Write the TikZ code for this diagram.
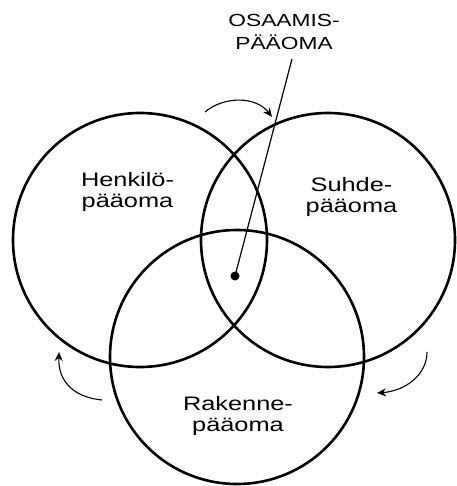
\documentclass[tikz,border=0pt]{standalone}
\usepackage{fontspec}
\setmainfont[FakeStretch=1.3]{Liberation Sans}
\usetikzlibrary{arrows.meta}
\begin{document}
\begin{tikzpicture}[x=1pt,y=-1pt,
	ring/.style={line width=2.6pt},
	turn/.style={line width=1.1pt,-{Stealth[length=9pt,width=8pt]}},
	lbl/.style={align=center,inner sep=0pt,font=\fontsize{19.5}{21}\selectfont}]
			\useasboundingbox (0,0) rectangle (456,486);
			
			%	Three circles
			\draw[ring] (140,240) circle (127);% left circle
			\draw[ring] (328,240) circle (127);% right circle
			\draw[ring] (237,357) circle (127);% bottom circle
			
			%	Labels
			\node[lbl] (henk) at (127.5,192) {Henkilö-\\pääoma};
			\node[lbl] (suhde) at (351.5,197) {Suhde-\\pääoma};
			\node[lbl] (rak) at (238,416) {Rakenne-\\pääoma};
			\node[lbl,font=\fontsize{17.5}{23}\selectfont] (osaa) at (284,32) {OSAAMIS-\\PÄÄOMA};
			
			%	Common part
			\coordinate (core) at (235,276);
			\fill[black] (core) circle (4.5);
			\draw[line width=1.2pt] (292,59) -- (core);
			
			%	Arrows
			\coordinate (t1) at (205,112);
			\coordinate (t2) at (272,117);
			\draw[turn] (t1) .. controls (224,96) and (256,96) .. (t2);
			\coordinate (l1) at (102,400);
			\coordinate (l2) at (59,352);
			\draw[turn] (l1) .. controls (72,397) and (58,380) .. (l2);
			\coordinate (r1) at (427,352);
			\coordinate (r2) at (377,393);
			\draw[turn] (r1) .. controls (427,375) and (405,391) .. (r2);
\end{tikzpicture}
\end{document}
